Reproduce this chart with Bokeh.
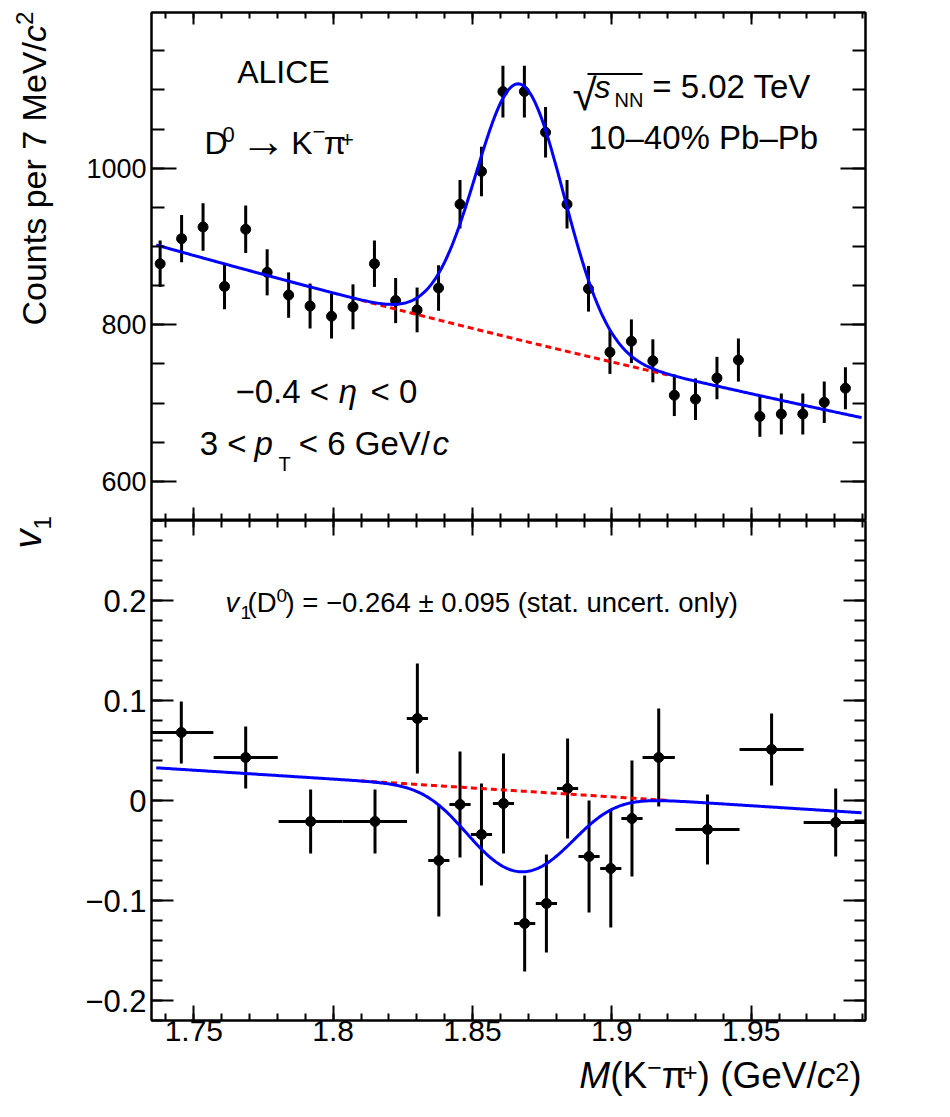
import numpy as np
from math import pi

from bokeh.plotting import figure
from bokeh.layouts import column, row
from bokeh.models import Range1d, FixedTicker, LinearAxis, Label
from bokeh.embed import file_html
from bokeh.resources import INLINE

FONT = "Liberation Sans"

# invariant mass distribution (top panel)
mass = [1.7379, 1.7456, 1.7533, 1.7610, 1.7686, 1.7763, 1.7840, 1.7917, 1.7994,
        1.8071, 1.8148, 1.8224, 1.8301, 1.8378, 1.8455, 1.8532, 1.8609, 1.8686,
        1.8762, 1.8839, 1.8916, 1.8993, 1.9070, 1.9147, 1.9224, 1.9300, 1.9377,
        1.9454, 1.9531, 1.9608, 1.9685, 1.9762, 1.9838]
counts = [878, 910, 925, 849, 922, 867, 838, 824, 811, 823, 878, 831, 819, 847,
          954, 996, 1098, 1098, 1046, 954, 846, 765, 779, 754, 710, 705, 732,
          755, 683, 686, 686, 701, 719]
counts_err = [29.6, 30.2, 30.4, 29.1, 30.4, 29.4, 29.0, 28.7, 28.5, 28.7, 29.6,
              28.8, 28.6, 29.1, 30.9, 31.6, 33.1, 33.1, 32.3, 30.9, 29.1, 27.7,
              27.9, 27.5, 26.6, 26.6, 27.1, 27.5, 26.1, 26.2, 26.2, 26.5, 26.8]

# v1 vs invariant mass (bottom panel)
v1_mass = [1.7455, 1.7686, 1.7919, 1.8150, 1.8302, 1.8379, 1.8455, 1.8532, 1.8611,
           1.8687, 1.8765, 1.8841, 1.8918, 1.8996, 1.9072, 1.9168, 1.9343, 1.9573,
           1.9803]
v1_mass_err = [0.0115, 0.0115, 0.0115, 0.0115, 0.0038, 0.0038, 0.0038, 0.0038,
               0.0038, 0.0038, 0.0038, 0.0038, 0.0038, 0.0038, 0.0038, 0.0058,
               0.0115, 0.0115, 0.0115]
v1 = [0.068, 0.043, -0.021, -0.021, 0.082, -0.060, -0.004, -0.034, -0.003, -0.123,
      -0.103, 0.012, -0.056, -0.068, -0.018, 0.043, -0.029, 0.051, -0.022]
v1_err = [0.031, 0.031, 0.032, 0.032, 0.055, 0.056, 0.053, 0.051, 0.050, 0.048,
          0.049, 0.050, 0.056, 0.059, 0.058, 0.049, 0.035, 0.036, 0.034]

# fit parameters
fit_lo, fit_hi = 1.7365, 1.9896
bkg_lo = 902.0        # background at fit_lo
bkg_slope = -1.108    # exponential slope
sig_amp = 327.0
sig_mean = 1.867
sig_width = 0.0158
v1_bkg_lo = 0.0327
v1_bkg_slope = -0.1777
v1_sig = -0.264
red_lo, red_hi = 1.81, 1.92

x_ticks = [1.75, 1.8, 1.85, 1.9, 1.95]
x_labels = ["1.75", "1.8", "1.85", "1.9", "1.95"]
top_ticks = [600, 800, 1000]
top_labels = ["600", "800", "1000"]
bot_ticks = [-0.2, -0.1, 0.0, 0.1, 0.2]
bot_labels = ["\u22120.2", "\u22120.1", "0", "0.1", "0.2"]

XMIN, XMAX = 1.7348, 1.991
TOP_Y = (550, 1199)
BOT_Y = (-0.22, 0.28)

# page geometry (px)
LS = 62                 # strip holding the y titles
FL, FW = 151, 714       # frame left edge and width
TOP = dict(yr=TOP_Y, top=12, h=508)
BOT = dict(yr=BOT_Y, top=520, h=500)
BOT_MB = 34
XT_TOP, XT_H = 520 + 500 + BOT_MB, 52
MID = 0.3465            # baseline -> middle of the text box, in em

# advance widths (em) for Arial / Liberation Sans
AW = {' ': .278, '(': .333, ')': .333, '.': .278, '/': .278, '=': .584, '<': .584,
      '\u00b1': .584, '\u2212': .584, '\u2013': .556, '%': .889, '+': .584,
      '\u03c0': .573, '\u03b7': .556, '\u2192': 1.0,
      'A': .667, 'C': .722, 'D': .722, 'E': .667, 'G': .778, 'I': .278, 'K': .667,
      'L': .556, 'M': .833, 'N': .722, 'P': .667, 'T': .611, 'V': .667,
      'a': .556, 'b': .556, 'c': .5, 'e': .556, 'l': .222, 'n': .556, 'o': .556,
      'p': .556, 'r': .333, 's': .5, 't': .278, 'u': .556, 'v': .5, 'y': .5}


def text_width(text, size):
    return sum(AW.get(ch, .556) for ch in text) * size


def page_x(px):
    return XMIN + (px - FL) / FW * (XMAX - XMIN)


def panel(g):
    y0, y1 = g["yr"]
    return lambda px, py: (page_x(px), y1 - (py - g["top"]) / g["h"] * (y1 - y0))


def rich(p, conv, x, y, pieces, angle=0.0):
    # pieces: (text, size, style, rise[, absolute x or y]); x, y = baseline start
    for piece in pieces:
        text, size, style, rise = piece[:4]
        if len(piece) > 4:
            if angle == 0:
                x = piece[4]
            else:
                y = piece[4]
        up = rise + MID * size
        if angle == 0:
            lx, ly = x, y - up
        else:
            lx, ly = x - up, y
        dx, dy = conv(lx, ly)
        p.add_layout(Label(x=dx, y=dy, text=text, angle=angle, text_font=FONT,
                           text_font_size=f"{size}px", text_font_style=style,
                           text_color="black", text_align="left",
                           text_baseline="middle"))
        if angle == 0:
            x += text_width(text, size)
        else:
            y -= text_width(text, size)


def setup_axis(ax, ticks, minor, labels, size, tick_in, minor_in, standoff=0):
    ax.ticker = FixedTicker(ticks=ticks, minor_ticks=minor)
    ax.axis_line_color = "black"
    ax.axis_line_width = 2
    ax.major_tick_line_color = "black"
    ax.major_tick_line_width = 2
    ax.minor_tick_line_color = "black"
    ax.minor_tick_line_width = 2
    ax.major_tick_in = tick_in
    ax.major_tick_out = 0
    ax.minor_tick_in = minor_in
    ax.minor_tick_out = 0
    ax.major_label_standoff = standoff
    if labels is None:
        # mirror axis: ticks only
        ax.major_label_text_font_size = "0px"
        ax.major_label_text_color = None
    else:
        ax.major_label_overrides = dict(zip(ticks, labels))
        ax.major_label_text_font = FONT
        ax.major_label_text_font_size = size
        ax.major_label_text_color = "black"


def make_fig(g, mb_top, mb_bottom):
    p = figure(frame_width=FW, frame_height=g["h"], x_range=Range1d(XMIN, XMAX),
               y_range=Range1d(*g["yr"]), output_backend="svg",
               toolbar_location=None, tools="",
               min_border_left=FL - LS, min_border_right=60,
               min_border_top=mb_top, min_border_bottom=mb_bottom,
               background_fill_color="white", border_fill_color="white",
               outline_line_color="black", outline_line_width=2)
    p.grid.visible = False
    return p


def blank_fig(**kw):
    p = figure(output_backend="svg", toolbar_location=None, tools="",
               x_axis_location=None, y_axis_location=None,
               background_fill_color="white", border_fill_color="white",
               outline_line_color=None, **kw)
    p.grid.visible = False
    return p


x_minor = [round(1.74 + 0.01 * i, 2) for i in range(26)]
top_minor = list(range(550, 1200, 50))
bot_minor = [round(-0.22 + 0.02 * i, 2) for i in range(26)]

xf = np.linspace(fit_lo, fit_hi, 500)
xr = np.linspace(red_lo, red_hi, 200)


def bkg(x):
    return bkg_lo * np.exp(bkg_slope * (x - fit_lo))


def sig(x):
    return sig_amp * np.exp(-0.5 * ((x - sig_mean) / sig_width) ** 2)


def v1_bkg(x):
    return v1_bkg_lo + v1_bkg_slope * (x - fit_lo)


# ---------------- top panel: invariant mass ----------------
p1 = make_fig(TOP, TOP["top"], 0)
setup_axis(p1.xaxis[0], x_ticks, x_minor, None, None, 13, 7)
setup_axis(p1.yaxis[0], top_ticks, top_minor, top_labels, "27px", 25, 13, 5)
ax = LinearAxis()
setup_axis(ax, x_ticks, x_minor, None, None, 12, 6)
p1.add_layout(ax, "above")
ax = LinearAxis()
setup_axis(ax, top_ticks, top_minor, None, None, 25, 13)
p1.add_layout(ax, "right")

m = np.array(mass)
c = np.array(counts)
ce = np.array(counts_err)
p1.segment(m, c - ce, m, c + ce, line_color="black", line_width=3)
p1.scatter(m, c, size=10, color="black")
p1.line(xr, bkg(xr), line_color="#ff0000", line_width=3, line_dash="6 4")
p1.line(xf, bkg(xf) + sig(xf), line_color="#0000ff", line_width=3)

cv1 = panel(TOP)
rich(p1, cv1, 236.7, 82.7, [("ALICE", 32, "normal", 0)])
rich(p1, cv1, 204, 154, [("D", 32, "normal", 0), ("0", 22, "normal", 12, 222),
                         ("\u2192", 46, "normal", -2, 240), ("K", 32, "normal", 0, 290.7),
                         ("\u2212", 22, "normal", 15, 312), ("\u03c0", 32, "normal", 0, 323.3),
                         ("+", 22, "normal", 7, 340.5)])
rich(p1, cv1, 572, 109, [("\u221a", 44, "normal", 0)])
ox0, oy = cv1(587, 73.5)
ox1, _ = cv1(642, 73.5)
p1.segment([ox0], [oy], [ox1], [oy], line_color="black", line_width=2)
rich(p1, cv1, 594, 97.3, [("s", 32, "italic", 0), ("NN", 20, "normal", -9, 614),
                          ("= 5.02 TeV", 33, "normal", 0, 651.7)])
rich(p1, cv1, 588.3, 148.3, [("10\u201340% Pb\u2013Pb", 33, "normal", 0)])
rich(p1, cv1, 235, 402.7, [("\u22120.4 <", 33, "normal", 0), ("\u03b7", 33, "italic", 0, 338.3),
                           ("< 0", 33, "normal", 0, 370)])
rich(p1, cv1, 199.3, 454, [("3 <", 33, "normal", 0), ("p", 33, "italic", 0, 254),
                           ("T", 20, "normal", -16, 278),
                           ("< 6 GeV/", 33, "normal", 0, 298.3),
                           ("c", 33, "italic", 0, 432)])

# ---------------- bottom panel: v1 ----------------
p2 = make_fig(BOT, 0, BOT_MB)
setup_axis(p2.xaxis[0], x_ticks, x_minor, x_labels, "30px", 15, 7, 0)
setup_axis(p2.yaxis[0], bot_ticks, bot_minor, bot_labels, "31px", 22, 11, 5)
ax = LinearAxis()
setup_axis(ax, x_ticks, x_minor, None, None, 15, 7)
p2.add_layout(ax, "above")
ax = LinearAxis()
setup_axis(ax, bot_ticks, bot_minor, None, None, 22, 11)
p2.add_layout(ax, "right")

vm = np.array(v1_mass)
vme = np.array(v1_mass_err)
vv = np.array(v1)
ve = np.array(v1_err)
p2.segment(vm, vv - ve, vm, vv + ve, line_color="black", line_width=3)
p2.segment(vm - vme, vv, vm + vme, vv, line_color="black", line_width=3)
p2.scatter(vm, vv, size=10, color="black")
p2.line(xr, v1_bkg(xr), line_color="#ff0000", line_width=3, line_dash="6 4")
s_f, b_f = sig(xf), bkg(xf)
p2.line(xf, (s_f * v1_sig + b_f * v1_bkg(xf)) / (s_f + b_f),
        line_color="#0000ff", line_width=3)

cv2 = panel(BOT)
rich(p2, cv2, 225, 611.7, [("v", 27.5, "italic", 0), ("1", 19, "normal", -7, 240),
                           ("(D", 27.5, "normal", 0, 247), ("0", 19, "normal", 10),
                           (") = \u22120.264 \u00b1 0.095 (stat. uncert. only)", 27.5, "normal", 0, 285)])

# ---------------- axis titles (outside the frames) ----------------
H_TOTAL = XT_TOP + XT_H
ystrip = blank_fig(width=LS, height=H_TOTAL, min_border=0,
                   x_range=Range1d(0, LS), y_range=Range1d(H_TOTAL, 0))
ident = lambda px, py: (px, py)
rich(ystrip, ident, 45, 325, [("Counts per 7 MeV/", 34, "normal", 0), ("c", 34, "italic", 0),
                              ("2", 24, "normal", 13)], angle=pi / 2)
rich(ystrip, ident, 41, 548, [("v", 38, "italic", 0), ("1", 24, "normal", -9)], angle=pi / 2)

xstrip = blank_fig(frame_width=FW, frame_height=XT_H, min_border_left=FL - LS,
                   min_border_right=60, min_border_top=0, min_border_bottom=0,
                   x_range=Range1d(XMIN, XMAX), y_range=Range1d(XT_TOP + XT_H, XT_TOP))
xconv = lambda px, py: (page_x(px), py)
xt = [("M", 37, "italic", 0), ("(K", 37, "normal", 0), ("\u2212", 25, "normal", 13),
      ("\u03c0", 37, "normal", 0), ("+", 25, "normal", 8), (") (GeV/", 37, "normal", 0),
      ("c", 37, "italic", 0), ("2", 25, "normal", 8), (")", 37, "normal", 0)]
total = sum(text_width(t[0], t[1]) for t in xt)
rich(xstrip, xconv, 861 - total, 1088, xt)

layout = row(ystrip, column(p1, p2, xstrip))
open("out.html", "w").write(file_html(layout, INLINE))
